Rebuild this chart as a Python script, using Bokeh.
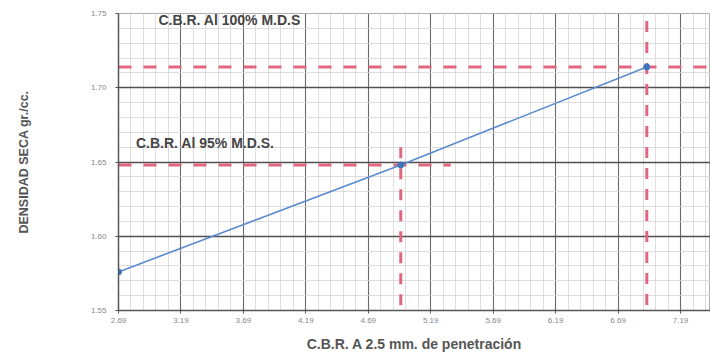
import numpy as np
from bokeh.plotting import figure
from bokeh.models import FixedTicker, Label, PrintfTickFormatter
from bokeh.embed import file_html
from bokeh.resources import INLINE

# data
cbr = [2.69, 4.95, 6.92]
densidad = [1.576, 1.648, 1.714]

x_ticks = [2.69, 3.19, 3.69, 4.19, 4.69, 5.19, 5.69, 6.19, 6.69, 7.19]
y_ticks = [1.55, 1.60, 1.65, 1.70, 1.75]

# reference (dashed) lines: 100% and 95% M.D.S.
ref100_x = [6.92, 6.92]
ref100_y = [1.745, 1.553]
ref100_h_x = [2.69, 7.5]
ref100_h_y = [1.714, 1.714]
ref95_x = [4.95, 4.95]
ref95_y = [1.660, 1.553]
ref95_h_x = [2.69, 5.35]
ref95_h_y = [1.648, 1.648]

label100 = "C.B.R. Al 100% M.D.S"
label95 = "C.B.R. Al 95% M.D.S."

FONT = "Liberation Sans"

p = figure(width=710, height=356, output_backend="svg", toolbar_location=None,
           x_range=(2.69, 7.43), y_range=(1.55, 1.75),
           min_border_left=118, min_border_right=0, min_border_top=13, min_border_bottom=46)
p.outline_line_color = "#b0b0b0"
p.outline_line_width = 1

minor_x = [round(v, 3) for v in np.arange(2.69, 7.5, 0.1)]
minor_y = [round(v, 3) for v in np.arange(1.55, 1.751, 0.01)]

p.xaxis.ticker = FixedTicker(ticks=x_ticks, minor_ticks=minor_x)
p.yaxis.ticker = FixedTicker(ticks=y_ticks, minor_ticks=minor_y)
p.xaxis.formatter = PrintfTickFormatter(format="%.2f")
p.yaxis.formatter = PrintfTickFormatter(format="%.2f")

for ax in (p.xaxis, p.yaxis):
    ax.major_label_text_font = FONT
    ax.major_label_text_font_size = "8px"
    ax.major_label_text_color = "#888888"
    ax.axis_line_color = "#555555"
    ax.axis_line_width = 1.5
    ax.major_tick_line_color = "#555555"
    ax.major_tick_out = 3
    ax.major_tick_in = 0
    ax.minor_tick_line_color = None
    ax.axis_label_text_font = FONT
    ax.axis_label_text_font_style = "bold"
    ax.axis_label_text_color = "#555555"

p.xaxis.axis_label = "C.B.R. A 2.5 mm. de penetración"
p.xaxis.axis_label_text_font_size = "14px"
p.xaxis.axis_label_standoff = 10
p.xaxis.major_label_standoff = 3
p.yaxis.axis_label = "DENSIDAD SECA gr./cc."
p.yaxis.axis_label_text_font_size = "12.5px"
p.yaxis.axis_label_standoff = 57
p.yaxis.major_label_standoff = 8

p.xgrid.ticker = FixedTicker(ticks=x_ticks, minor_ticks=minor_x)
p.ygrid.ticker = FixedTicker(ticks=y_ticks[1:-1], minor_ticks=minor_y)

p.xgrid.grid_line_color = "#6a6a6a"
p.xgrid.grid_line_width = 1.1
p.ygrid.grid_line_color = "#505050"
p.ygrid.grid_line_width = 1.6
for g in (p.xgrid, p.ygrid):
    g.grid_line_alpha = 1.0
    g.minor_grid_line_color = "#d6d6d6"
    g.minor_grid_line_width = 0.8

red = "#e26680"
p.line(ref100_h_x, ref100_h_y, line_color=red, line_width=3, line_dash="13 12")
p.line(ref100_x, ref100_y, line_color=red, line_width=3, line_dash="11 10")
p.line(ref95_h_x, ref95_h_y, line_color=red, line_width=3, line_dash="13 12")
p.line(ref95_x, ref95_y, line_color=red, line_width=3, line_dash="11 10")

p.line(cbr, densidad, line_color="#5b8ad0", line_width=1.6)
p.scatter(cbr, densidad, size=6, fill_color="#3f74c0", line_color="#3f74c0")

p.add_layout(Label(x=3.01, y=1.7453, text=label100, text_font=FONT, text_font_style="bold",
                   text_font_size="14px", text_color="#444444", text_baseline="middle"))
p.add_layout(Label(x=2.83, y=1.6625, text=label95, text_font=FONT, text_font_style="bold",
                   text_font_size="14px", text_color="#444444", text_baseline="middle"))

open("out.html", "w").write(file_html(p, INLINE))
